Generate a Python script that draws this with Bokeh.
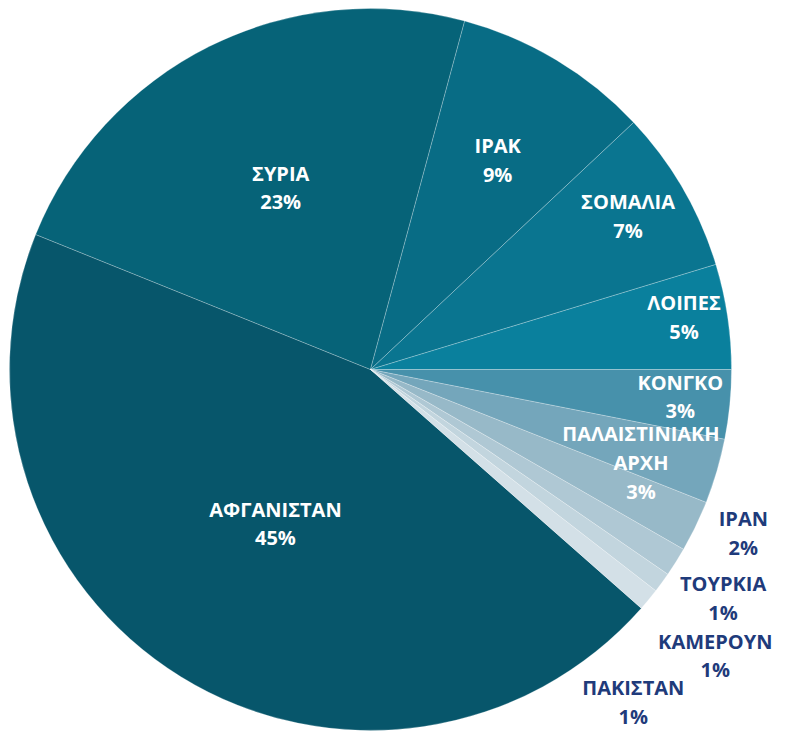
import math
from bokeh.plotting import figure
from bokeh.models import ColumnDataSource
from bokeh.core.properties import value
from bokeh.embed import file_html
from bokeh.resources import INLINE

# ---- data ----
countries = ["ΑΦΓΑΝΙΣΤΑΝ", "ΣΥΡΙΑ", "ΙΡΑΚ", "ΣΟΜΑΛΙΑ", "ΛΟΙΠΕΣ", "ΚΟΝΓΚΟ",
             "ΠΑΛΑΙΣΤΙΝΙΑΚΗ\nΑΡΧΗ", "ΙΡΑΝ", "ΤΟΥΡΚΙΑ", "ΚΑΜΕΡΟΥΝ", "ΠΑΚΙΣΤΑΝ"]
shares = [44.6, 23.1, 8.8, 7.3, 4.7, 3.1, 2.9, 2.3, 1.3, 0.9, 1.0]

# ---- styles ----
colors = ["#07566B", "#066378", "#086C85", "#0A7590", "#0A809D", "#4791AB",
          "#74A6BB", "#97B9C8", "#AFC8D4", "#C2D5DE", "#D3E0E7"]
label_colors = ["white"] * 7 + ["#1F3B7B"] * 4
label_r = [181, 203, 245, 300, 318, 311, 286, 407, 420, 448, 424]
label_dang = [0.0, 0.2, 0.3, -0.8, -1.1, -0.6, 2.6, -2.1, 0.7, 3.5, 12.1]

R = 361
W, H = 789, 734
cx_px, cy_px = 370, 369

total = sum(shares)
# slices run clockwise; the end of "ΛΟΙΠΕΣ" lies at 3 o'clock
start_cw = -sum(shares[:5]) / total * 360.0  # clockwise degrees from 3 o'clock

starts, ends, lx, ly, labels = [], [], [], [], []
acc = start_cw
for i, s in enumerate(shares):
    a1 = acc
    a2 = acc + s / total * 360.0
    acc = a2
    # bokeh angles are anticlockwise
    starts.append(math.radians(-a2))
    ends.append(math.radians(-a1))
    mid = (a1 + a2) / 2 + label_dang[i]
    lx.append(label_r[i] * math.cos(math.radians(mid)))
    ly.append(-label_r[i] * math.sin(math.radians(mid)))
    labels.append(f"{countries[i]}\n{round(s / total * 100)}%")

src = ColumnDataSource(dict(start=starts, end=ends, color=colors,
                            lx=lx, ly=ly, label=labels, lcolor=label_colors))

p = figure(width=W, height=H, output_backend="svg", toolbar_location=None,
           x_range=(-cx_px, W - cx_px), y_range=(-(H - cy_px), cy_px),
           min_border=0)
p.axis.visible = False
p.grid.visible = False
p.outline_line_color = None
p.background_fill_color = "white"
p.border_fill_color = "white"

p.wedge(x=0, y=0, radius=R, start_angle="start", end_angle="end",
        fill_color="color", line_color="white", line_alpha=0.3, line_width=0.8,
        source=src)

p.text(x="lx", y="ly", text="label", source=src, text_color="lcolor",
       text_font=value("Open Sans"), text_font_style="bold",
       text_font_size="20px", text_align="center", text_baseline="middle",
       text_line_height=1.07)

open("out.html", "w").write(file_html(p, INLINE))
